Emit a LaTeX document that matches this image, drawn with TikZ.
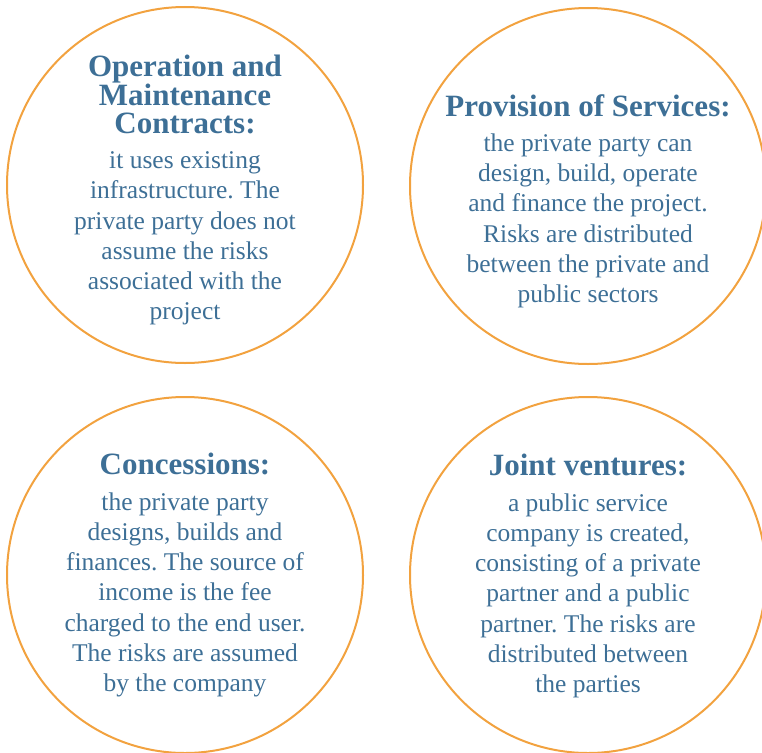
\documentclass[tikz,border=0pt]{standalone}
\usepackage{fontspec}
\setmainfont{Liberation Serif}
\usetikzlibrary{positioning}
\definecolor{ringorange}{HTML}{F2A23F}
\definecolor{inkblue}{HTML}{3D6F96}
\tikzset{
  ring/.style={circle,draw=ringorange,line width=2pt,minimum size=356pt,inner sep=0pt},
  head/.style={anchor=north,align=center,inner sep=0pt,text=inkblue,
    font=\fontsize{31}{28.6}\selectfont\bfseries},
  blurb/.style={align=center,inner sep=0pt,text=inkblue,
    font=\fontsize{25.5}{30.2}\selectfont},
  node distance=17pt
}
\frenchspacing
\begin{document}
\begin{tikzpicture}[x=1pt,y=-1pt]
  \useasboundingbox (0,0) rectangle (762,752);
  \clip (0,0) rectangle (762,752);
  % the four rings
  \node[ring] (opring) at (185,185) {};
  \node[ring] (provring) at (588,186) {};
  \node[ring] (concring) at (185,575) {};
  \node[ring] (jointring) at (588,575) {};
  % operation and maintenance
  \node[head] (ophead) at ([yshift=130pt]opring.center) {Operation and\\Maintenance\\Contracts:};
  \node[blurb,below=of ophead] (opbody) {it uses existing\\infrastructure. The\\private party does not\\assume the risks\\associated with the\\project};
  % provision of services
  \node[head] (provhead) at ([yshift=92pt]provring.center) {Provision of Services:};
  \node[blurb,below=of provhead] (provbody) {the private party can\\design, build, operate\\and finance the project.\\Risks are distributed\\between the private and\\public sectors};
  % concessions
  \node[head] (conchead) at ([yshift=122pt]concring.center) {Concessions:};
  \node[blurb,below=of conchead] (concbody) {the private party\\designs, builds and\\finances. The source of\\income is the fee\\charged to the end user.\\The risks are assumed\\by the company};
  % joint ventures
  \node[head] (jointhead) at ([yshift=121pt]jointring.center) {Joint ventures:};
  \node[blurb,below=of jointhead] (jointbody) {a public service\\company is created,\\consisting of a private\\partner and a public\\partner. The risks are\\distributed between\\the parties};
\end{tikzpicture}
\end{document}
